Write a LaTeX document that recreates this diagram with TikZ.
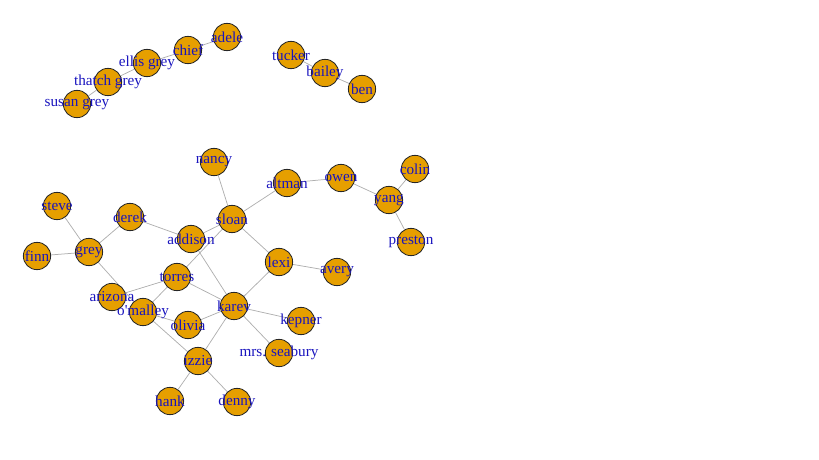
\documentclass[tikz,border=0pt]{standalone}
\usepackage{fontspec}
\setmainfont{Liberation Serif}
\usepackage{tikz}
\usetikzlibrary{backgrounds}

\definecolor{vfill}{RGB}{230,159,0}
\definecolor{vtext}{RGB}{25,20,190}
\definecolor{egray}{RGB}{175,175,175}

\begin{document}
\begin{tikzpicture}[x=0.75pt,y=-0.75pt,
      vertex/.style={circle,draw=black!85,fill=vfill,line width=0.6pt,
        minimum size=20.5pt,inner sep=0pt},
      every label/.style={text=vtext,font=\fontsize{11.4}{12}\selectfont,inner sep=0pt},
      every edge/.style={draw=egray,line width=0.55pt}]

    \useasboundingbox (0,0) rectangle (819,460);

    % the greys
    \node[vertex,label=center:susan grey] (susan) at (77,104) {};
    \node[vertex,label=center:thatch grey] (thatch) at (108,82) {};
    \node[vertex,label=center:ellis grey] (ellis) at (147,63) {};
    \node[vertex,label=center:chief] (chief) at (188,50) {};
    \node[vertex,label=center:adele] (adele) at (227,37) {};

    % the baileys
    \node[vertex,label=center:tucker] (tucker) at (291,55) {};
    \node[vertex,label=center:bailey] (bailey) at (325,73) {};
    \node[vertex,label=center:ben] (ben) at (362,89) {};

    % main part
    \node[vertex,label=center:nancy] (nancy) at (214,162) {};
    \node[vertex,label=center:altman] (altman) at (287,183) {};
    \node[vertex,label=center:owen] (owen) at (341,178) {};
    \node[vertex,label=center:colin] (colin) at (415,169) {};
    \node[vertex,label=center:yang] (yang) at (389,200) {};
    \node[vertex,label=center:preston] (preston) at (411,242) {};
    \node[vertex,label=center:steve] (steve) at (57,206) {};
    \node[vertex,label=center:derek] (derek) at (130,217) {};
    \node[vertex,label=center:sloan] (sloan) at (232,219) {};
    \node[vertex,label=center:addison] (addison) at (191,239) {};
    \node[vertex,label=center:grey] (grey) at (89,252) {};
    \node[vertex,label=center:finn] (finn) at (37,256) {};
    \node[vertex,label=center:lexi] (lexi) at (279,262) {};
    \node[vertex,label=center:avery] (avery) at (337,272) {};
    \node[vertex,label=center:torres] (torres) at (177,277) {};
    \node[vertex,label=center:arizona] (arizona) at (112,297) {};
    \node[vertex,label=center:o\textquotesingle malley] (omalley) at (143,312) {};
    \node[vertex,label=center:karev] (karev) at (234,306) {};
    \node[vertex,label=center:olivia] (olivia) at (188,325) {};
    \node[vertex,label=center:kepner] (kepner) at (301,321) {};
    \node[vertex,label=center:mrs. seabury] (seabury) at (279,353) {};
    \node[vertex,label=center:izzie] (izzie) at (198,361) {};
    \node[vertex,label=center:hank] (hank) at (170,401) {};
    \node[vertex,label=center:denny] (denny) at (237,402) {};

    \begin{pgfonlayer}{background}
    \path (susan) edge (thatch)
    (thatch) edge (ellis)
    (ellis) edge (chief)
    (chief) edge (adele)
    (tucker) edge (bailey)
    (bailey) edge (ben)
    (steve) edge (grey)
    (finn) edge (grey)
    (grey) edge (derek)
    edge (omalley)
    (derek) edge (addison)
    (addison) edge (sloan)
    edge (karev)
    (nancy) edge (sloan)
    (sloan) edge (altman)
    edge (lexi)
    edge (torres)
    (altman) edge (owen)
    (owen) edge (yang)
    (yang) edge (colin)
    edge (preston)
    (lexi) edge (avery)
    edge (karev)
    (torres) edge (arizona)
    edge (omalley)
    edge (karev)
    (omalley) edge (olivia)
    edge (izzie)
    (olivia) edge (karev)
    (karev) edge (kepner)
    edge (seabury)
    edge (izzie)
    (izzie) edge (hank)
    edge (denny);
    \end{pgfonlayer}
  \end{tikzpicture}
\end{document}
